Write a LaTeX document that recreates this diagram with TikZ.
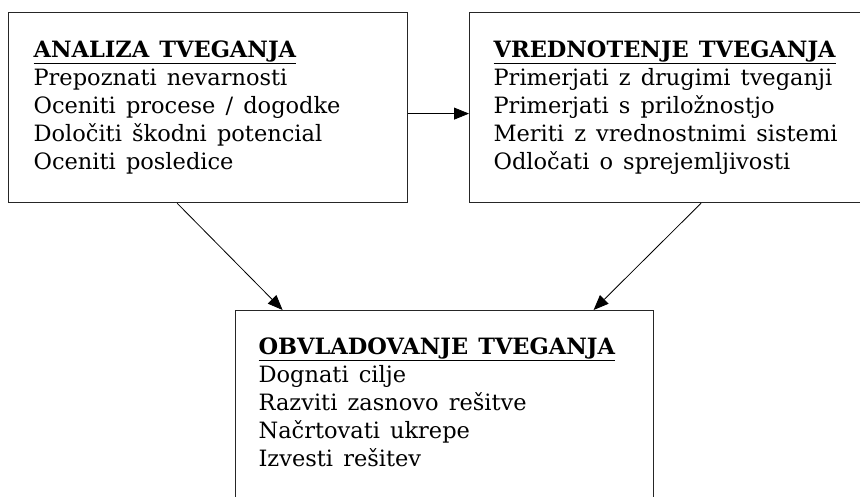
\documentclass[tikz,border=0pt]{standalone}
\usepackage{fontspec}
\setmainfont{DejaVu Serif}
\usepackage{tikz}
\usetikzlibrary{arrows.meta}
\newcommand{\boxhead}[1]{\textbf{\underline{#1}}}
\newcommand{\wordgap}{\spaceskip=0.45em\relax}

\begin{document}
\begin{tikzpicture}[x=1pt, y=-1pt, >={Triangle[length=15pt,width=12pt]},
    font=\fontsize{22.5}{28}\selectfont,
    riskbox/.style={draw=black!85, line width=1.2pt, inner xsep=25pt, inner ysep=28pt, anchor=north west}]
  \useasboundingbox (0,0) rectangle (860,496);
  \clip (0,0) rectangle (860,496);
  \node[riskbox] (ana) at (8,12) {\parbox[t][134pt][t]{349pt}{\wordgap\boxhead{ANALIZA TVEGANJA}\\
    Prepoznati nevarnosti\\ Oceniti procese / dogodke\\ Določiti škodni potencial\\ Oceniti posledice}};
  \node[riskbox, inner xsep=24pt] (vre) at (469,12) {\parbox[t][134pt][t]{363pt}{\wordgap\boxhead{VREDNOTENJE TVEGANJA}\\
    Primerjati z drugimi tveganji\\ Primerjati s priložnostjo\\ Meriti z vrednostnimi sistemi\\ Odločati o sprejemljivosti}};
  \node[riskbox, inner xsep=23pt, inner ysep=27pt] (obv) at (235,310) {\parbox[t][146pt][t]{372pt}{\wordgap\boxhead{OBVLADOVANJE TVEGANJA}\\
    Dognati cilje\\ Razviti zasnovo rešitve\\ Načrtovati ukrepe\\ Izvesti rešitev}};
  \draw[->, line width=0.8pt] ([yshift=-6pt]ana.east) -- ([yshift=-6pt]ana.east -| vre.west);
  \draw[->, line width=0.8pt] ([xshift=-31pt]ana.south) -- ([xshift=-162pt]obv.north);
  \draw[->, line width=0.8pt] ([xshift=26pt]vre.south) -- ([xshift=149pt]obv.north);
\end{tikzpicture}
\end{document}
